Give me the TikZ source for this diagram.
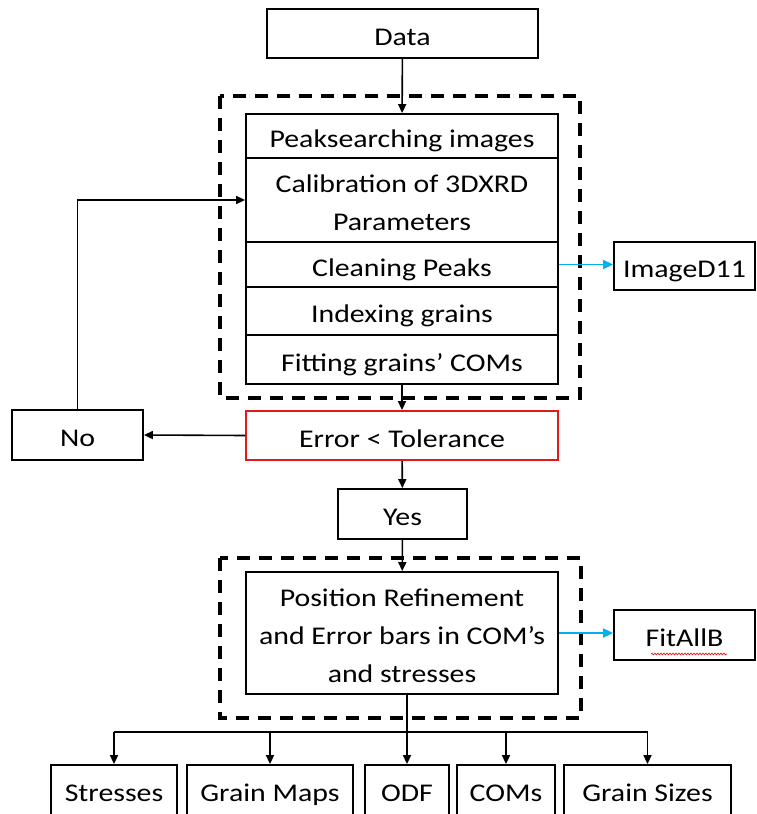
\documentclass[tikz,border=0pt]{standalone}
\usepackage{fontspec}
\setmainfont{Carlito}[FakeStretch=1.17]
\usetikzlibrary{arrows.meta,decorations.pathmorphing}
\definecolor{arrowblue}{RGB}{0,176,240}
\definecolor{errred}{RGB}{225,25,25}
\begin{document}
\begin{tikzpicture}[x=1pt,y=-1pt,
  box/.style={draw=black, line width=1.8pt, inner sep=0pt, align=center,
    font=\fontsize{25.5}{38}\selectfont},
  single/.style={text height=23.5pt, text depth=0pt},
  txt/.style={inner sep=0pt, align=center, font=\fontsize{25.5}{38}\selectfont, yshift=-2.5pt},
  arr/.style={line width=1.6pt, -{Triangle[length=9pt,width=8pt]}},
  conn/.style={line width=1.6pt},
  bluearr/.style={draw=arrowblue, line width=1.7pt, -{Triangle[length=10pt,width=9pt]}},
  dashbox/.style={line width=3.2pt, dash pattern=on 13pt off 9pt}
]
\useasboundingbox (0,0) rectangle (756,814);

% dashed groups
\draw[dashbox] (220,96) rectangle (580,398);
\draw[dashbox] (220,558) rectangle (581,718);

% nodes
\node[box, single, minimum width=271pt, minimum height=49pt] (data) at (402.5,33.5) {Data};
\node[box, single, minimum width=312pt, minimum height=44pt] (peak) at (402,136) {Peaksearching images};
\node[box, minimum width=312pt, minimum height=84pt] (calib) at (402,200) {};
\node[txt] (calibtext) at (calib.center) {Calibration of 3DXRD\\Parameters};
\node[box, single, minimum width=312pt, minimum height=45pt] (clean) at (402,264.5) {Cleaning Peaks};
\node[box, single, minimum width=312pt, minimum height=48pt] (index) at (402,311) {Indexing grains};
\node[box, single, minimum width=312pt, minimum height=49pt] (fit) at (402,359.5) {Fitting grains’ COMs};
\node[box, single, minimum width=141pt, minimum height=48pt] (imaged) at (684.5,266) {ImageD11};
\node[box, single, draw=errred, minimum width=312pt, minimum height=49pt] (err) at (402,435.5) {Error < Tolerance};
\node[box, single, minimum width=131pt, minimum height=50pt] (no) at (77.5,435) {No};
\node[box, single, minimum width=129pt, minimum height=50pt] (yes) at (402.5,514) {Yes};
\node[box, minimum width=312pt, minimum height=122pt] (pos) at (402,633) {};
\node[txt] (postext) at (pos.center) {Position Refinement\\and Error bars in COM’s\\and stresses};
\node[box, single, minimum width=141pt, minimum height=50pt] (fitallb) at (684.5,635) {FitAllB};
\draw[errred, line width=0.7pt, decorate, decoration={snake, amplitude=0.9pt, segment length=3pt}] (651,654) -- (727,654);

\node[box, single, minimum width=126pt, minimum height=50pt] (stress) at (114,790) {Stresses};
\node[box, single, minimum width=166pt, minimum height=50pt] (gmaps) at (270,790) {Grain Maps};
\node[box, single, minimum width=84pt, minimum height=50pt] (odf) at (407,790) {ODF};
\node[box, single, minimum width=98pt, minimum height=50pt] (coms) at (506,790) {COMs};
\node[box, single, minimum width=167pt, minimum height=50pt] (gsizes) at (647.5,790) {Grain Sizes};

% connectors
\draw[arr] (data) -- (peak);
\draw[arr] (fit) -- (err);
\draw[arr] (err) -- (yes);
\draw[arr] (yes) -- (pos);
\draw[arr] (err.west) -- (no.east);
\draw[arr] (no.north) |- (calib.west);
\draw[bluearr] (clean.east) -- (clean.east -| imaged.west);
\draw[bluearr] (pos.east) -- (pos.east -| fitallb.west);

\coordinate (split) at (407,732);
\draw[conn] (pos.south -| split) -- (split);
\draw[conn] (stress.north |- split) -- (gsizes.north |- split);
\draw[arr] (stress.north |- split) -- (stress.north);
\draw[arr] (gmaps.north |- split) -- (gmaps.north);
\draw[arr] (odf.north |- split) -- (odf.north);
\draw[arr] (coms.north |- split) -- (coms.north);
\draw[arr] (gsizes.north |- split) -- (gsizes.north);
\end{tikzpicture}
\end{document}
